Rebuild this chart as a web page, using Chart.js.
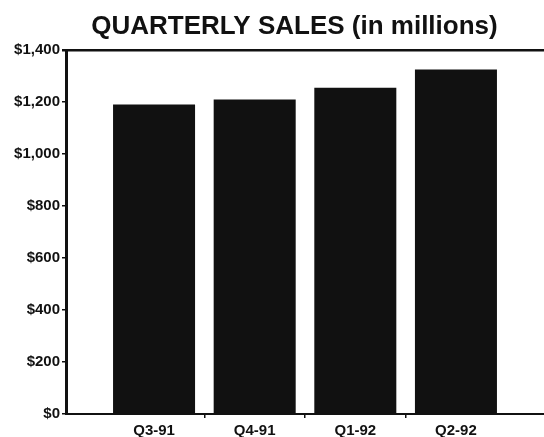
<!DOCTYPE html>
<html>
<head>
<meta charset="utf-8">
<script src="https://cdn.jsdelivr.net/npm/chart.js@4/dist/chart.umd.min.js"></script>
<style>
  html, body { margin: 0; padding: 0; background: #fff; overflow: hidden; }
  #wrap { position: relative; width: 544px; height: 437px; }
</style>
</head>
<body>
<div id="wrap"><canvas id="chart"></canvas></div>
<script>
// Quarterly sales, in millions of dollars
const TITLE = 'QUARTERLY SALES (in millions)';
const quarters = ['Q3-91', 'Q4-91', 'Q1-92', 'Q2-92'];
const sales = [1190, 1210, 1255, 1325];
const yTicks = [0, 200, 400, 600, 800, 1000, 1200, 1400];

const INK = '#111111';
const CLEAR = 'rgba(0,0,0,0)';
Chart.defaults.font.family = "'Liberation Sans', Arial, Helvetica, sans-serif";
Chart.defaults.color = INK;

// Heading drawn centred over the plot
const headingPlugin = {
  id: 'heading',
  afterDraw(chart) {
    const ctx = chart.ctx;
    ctx.save();
    ctx.font = "bold 26px 'Liberation Sans', Arial, sans-serif";
    ctx.fillStyle = INK;
    ctx.textAlign = 'center';
    ctx.textBaseline = 'alphabetic';
    ctx.fillText(TITLE, 294.5, 34);
    ctx.restore();
  }
};

const points = quarters.map((q, i) => ({ x: i, y: sales[i] }));

new Chart(document.getElementById('chart'), {
  type: 'bar',
  data: {
    datasets: [{
      data: points,
      backgroundColor: INK,
      borderWidth: 0,
      barPercentage: 0.815,
      categoryPercentage: 1
    }]
  },
  options: {
    responsive: true,
    maintainAspectRatio: false,
    animation: false,
    layout: { padding: { top: 50, right: 0, bottom: -7, left: 0 } },
    plugins: {
      legend: { display: false },
      tooltip: { enabled: false },
      title: { display: false }
    },
    scales: {
      x: {
        type: 'linear',
        min: -0.875,
        max: quarters.length - 1 + 0.875,
        offset: false,
        afterBuildTicks(scale) {
          scale.ticks = quarters.map((q, i) => ({ value: i }));
        },
        ticks: {
          autoSkip: false,
          maxRotation: 0,
          padding: 4,
          font: { size: 15, weight: 'bold' },
          color: INK,
          callback: (v) => quarters[v]
        },
        grid: {
          offset: true,
          drawOnChartArea: false,
          drawTicks: true,
          tickLength: 4,
          lineWidth: 1.5,
          // tick marks only between neighbouring quarters
          tickColor: (c) => (c.tick && c.index >= 1) ? INK : CLEAR
        },
        border: { display: true, color: INK, width: 2 }
      },
      y: {
        min: 0,
        max: 1400,
        afterBuildTicks(scale) {
          scale.ticks = yTicks.map(v => ({ value: v }));
        },
        afterFit(scale) { scale.width = 66; },
        ticks: {
          padding: 2,
          font: { size: 15, weight: 'bold' },
          color: INK,
          callback: (v) => '$' + Number(v).toLocaleString('en-US')
        },
        grid: {
          drawOnChartArea: true,
          drawTicks: true,
          tickLength: 4,
          tickColor: INK,
          color: (c) => (c.tick && c.tick.value === 1400) ? INK : CLEAR,
          lineWidth: (c) => (c.tick && c.tick.value === 1400) ? 2.5 : 1.5
        },
        border: { display: true, color: INK, width: 3 }
      }
    }
  },
  plugins: [headingPlugin]
});
</script>
</body>
</html>
